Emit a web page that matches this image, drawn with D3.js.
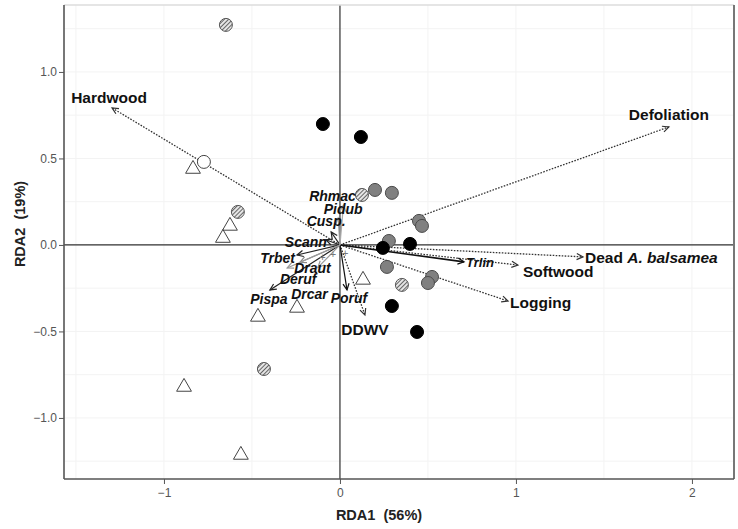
<!DOCTYPE html>
<html>
<head>
<meta charset="utf-8">
<script src="https://cdn.jsdelivr.net/npm/d3@7"></script>
<style>
  body { margin: 0; background: #fff; }
  text { font-family: "Liberation Sans", Arial, sans-serif; }
</style>
</head>
<body>
<svg id="chart" width="738" height="529"></svg>
<script>
// site scores by symbol group [RDA1, RDA2]
var blackSites = [[-0.097, 0.699], [0.119, 0.624], [0.244, -0.017], [0.398, 0.006], [0.295, -0.353], [0.438, -0.503]];
var greySites = [[0.199, 0.318], [0.295, 0.301], [0.449, 0.139], [0.466, 0.11], [0.278, 0.023], [0.267, -0.127], [0.523, -0.185], [0.5, -0.22]];
var hatchSites = [[-0.648, 1.272], [-0.58, 0.191], [0.125, 0.289], [0.352, -0.231], [-0.432, -0.717]];
var openSites = [[-0.773, 0.48]];
var triSites = [[-0.835, 0.439], [-0.625, 0.11], [-0.665, 0.04], [-0.466, -0.416], [-0.244, -0.364], [-0.886, -0.821], [-0.563, -1.214], [0.131, -0.202]];

// environmental vectors
var envNames = ["Hardwood", "Defoliation", "Dead", "Softwood", "Logging", "DDWV"];
var envX = [-1.295, 1.869, 1.381, 1.011, 0.955, 0.142];
var envY = [0.792, 0.682, -0.069, -0.116, -0.324, -0.405];

// species vectors
var sppNames = ["Trlin", "Poruf", "Pispa", "Trbet", "Scann", "Cusp.", "Pidub", "Rhmac", "Draut", "Deruf", "Drcar"];
var sppX = [0.705, 0.04, -0.398, -0.244, -0.08, -0.05, -0.01, 0.02, -0.227, -0.3, -0.125];
var sppY = [-0.098, -0.26, -0.26, -0.058, 0.03, 0.075, 0.156, 0.23, -0.1, -0.133, -0.13];
var plusPts = [[-0.04, -0.05], [0.03, -0.045], [-0.1, -0.07]];

var xTicks = [-1, 0, 1, 2];
var yTicks = [-1.0, -0.5, 0.0, 0.5, 1.0];

var margin = {top: 5, right: 4, bottom: 50, left: 64}
  , width = 738 - margin.left - margin.right
  , height = 529 - margin.top - margin.bottom;

var x = d3.scaleLinear().domain([-1.568, 2.239]).range([0, width]);
var y = d3.scaleLinear().domain([-1.353, 1.387]).range([height, 0]);

var svg = d3.select("#chart");
var defs = svg.append("defs");
var pat = defs.append("pattern")
  .attr("id", "hatch").attr("patternUnits", "userSpaceOnUse")
  .attr("width", 3).attr("height", 3)
  .attr("patternTransform", "rotate(45)");
pat.append("rect").attr("width", 3).attr("height", 3).attr("fill", "#e6e6e6");
pat.append("line").attr("x1", 0).attr("y1", 0).attr("x2", 0).attr("y2", 3)
  .attr("stroke", "#444").attr("stroke-width", 1.6);
defs.append("clipPath").attr("id", "clip").append("rect")
  .attr("width", width).attr("height", height);

var g = svg.append("g")
  .attr("transform", "translate(" + margin.left + "," + margin.top + ")");

// faint grid
g.append("g").selectAll("line")
  .data(d3.range(-1.5, 2.01, 0.5))
  .enter().append("line")
  .attr("x1", d => x(d)).attr("x2", d => x(d)).attr("y1", 0).attr("y2", height)
  .attr("stroke", "#f3f3f3");
g.append("g").selectAll("line")
  .data(d3.range(-1.25, 1.3, 0.25))
  .enter().append("line")
  .attr("y1", d => y(d)).attr("y2", d => y(d)).attr("x1", 0).attr("x2", width)
  .attr("stroke", "#f3f3f3");

// zero lines
g.append("line").attr("x1", 0).attr("x2", width).attr("y1", y(0)).attr("y2", y(0))
  .attr("stroke", "#333").attr("stroke-width", 1.2);
g.append("line").attr("x1", x(0)).attr("x2", x(0)).attr("y1", 0).attr("y2", height)
  .attr("stroke", "#333").attr("stroke-width", 1.2);

function arrow(sel, tx, ty, color, w, dash) {
  var x0 = x(0), y0 = y(0), x1 = x(tx), y1 = y(ty);
  var a = Math.atan2(y1 - y0, x1 - x0), L = 7, s = 0.45;
  sel.append("line").attr("x1", x0).attr("y1", y0).attr("x2", x1).attr("y2", y1)
    .attr("stroke", color).attr("stroke-width", w)
    .attr("stroke-dasharray", dash);
  sel.append("path")
    .attr("d", "M" + (x1 - L * Math.cos(a - s)) + "," + (y1 - L * Math.sin(a - s)) +
      "L" + x1 + "," + y1 +
      "L" + (x1 - L * Math.cos(a + s)) + "," + (y1 - L * Math.sin(a + s)))
    .attr("fill", "none").attr("stroke", color).attr("stroke-width", 1.2);
}

// env arrows (dotted)
var envG = g.append("g");
envNames.forEach((n, i) => arrow(envG, envX[i], envY[i], "#333", 1.3, "1.6,1.4"));

// species arrows (solid)
var sppColor = ["#111", "#111", "#222", "#222", "#222", "#222", "#999", "#aaa", "#888", "#999", "#999"];
var sppG = g.append("g");
sppNames.forEach((n, i) => arrow(sppG, sppX[i], sppY[i], sppColor[i], i == 0 ? 1.6 : 1.2, null));

g.append("g").selectAll("text").data(plusPts).enter().append("text")
  .attr("x", d => x(d[0])).attr("y", d => y(d[1]) + 4)
  .attr("text-anchor", "middle").attr("font-size", 11).attr("fill", "#777").text("+");

// sites
var pts = g.append("g").attr("clip-path", "url(#clip)");
function circles(data, fill, stroke) {
  pts.append("g").selectAll("circle").data(data).enter().append("circle")
    .attr("cx", d => x(d[0])).attr("cy", d => y(d[1])).attr("r", 6.5)
    .attr("fill", fill).attr("stroke", stroke).attr("stroke-width", 1);
}
circles(openSites, "#fff", "#444");
circles(hatchSites, "url(#hatch)", "#555");
circles(greySites, "#808080", "#4a4a4a");
circles(blackSites, "#000", "#000");
pts.append("g").selectAll("path").data(triSites).enter().append("path")
  .attr("d", d3.symbol(d3.symbolTriangle, 95))
  .attr("transform", d => "translate(" + x(d[0]) + "," + y(d[1]) + ")")
  .attr("fill", "#fff").attr("stroke", "#444").attr("stroke-width", 1);

// labels
var envLab = {
  "Hardwood": [-3, -4.5, "middle"], "Defoliation": [0, -6.5, "middle"],
  "Dead": [2, 6.5, "start"], "Softwood": [5, 12, "start"],
  "Logging": [2, 7, "start"], "DDWV": [0, 19.5, "middle"]
};
var envT = g.append("g").attr("font-size", 15.5).attr("font-weight", "bold").attr("fill", "#111");
envNames.forEach((n, i) => {
  var o = envLab[n];
  var t = envT.append("text")
    .attr("x", x(envX[i]) + o[0]).attr("y", y(envY[i]) + o[1])
    .attr("text-anchor", o[2]);
  if (n == "Dead") {
    t.text("Dead ");
    t.append("tspan").attr("font-style", "italic").text("A. balsamea");
  } else t.text(n);
});

var sppLab = {
  "Trlin": [2, 5, "start"], "Poruf": [2, 13, "middle"], "Pispa": [-1, 14.5, "middle"],
  "Trbet": [-2, 8, "end"], "Scann": [1, 7, "end"], "Cusp.": [-5, -6, "middle"],
  "Pidub": [5, -3.5, "middle"], "Rhmac": [-11, -4, "middle"], "Draut": [12.5, 10.5, "middle"],
  "Deruf": [11, 16.5, "middle"], "Drcar": [-8.5, 31.5, "middle"]
};
var sppT = g.append("g").attr("font-size", 14).attr("font-weight", "bold")
  .attr("font-style", "italic").attr("fill", "#111");
sppNames.forEach((n, i) => {
  var o = sppLab[n];
  sppT.append("text")
    .attr("x", x(sppX[i]) + o[0]).attr("y", y(sppY[i]) + o[1])
    .attr("text-anchor", o[2])
    .attr("font-size", n == "Trlin" ? 13 : 14)
    .text(n);
});

// frame
g.append("line").attr("x1", 0).attr("x2", width).attr("y1", 0).attr("y2", 0)
  .attr("stroke", "#ddd").attr("stroke-width", 1.5);
g.append("line").attr("x1", width).attr("x2", width).attr("y1", 0).attr("y2", height)
  .attr("stroke", "#777").attr("stroke-width", 2);

// axes
var xAxis = g.append("g")
  .attr("transform", "translate(0," + height + ")")
  .call(d3.axisBottom(x).tickValues(xTicks).tickSize(5).tickPadding(4).tickFormat(d3.format("d")));
var yAxis = g.append("g")
  .call(d3.axisLeft(y).tickValues(yTicks).tickSize(5).tickPadding(2).tickFormat(d3.format(".1f")));
[xAxis, yAxis].forEach(a => {
  a.select(".domain").attr("stroke", "#555").attr("stroke-width", 1.6);
  a.selectAll(".tick line").attr("stroke", "#555");
  a.selectAll(".tick text").attr("fill", "#555").attr("font-size", 12)
    .attr("font-family", "Liberation Sans, Arial, sans-serif");
});
xAxis.select(".domain").attr("d", "M0,0H" + width);
yAxis.select(".domain").attr("d", "M0," + height + "V0");

svg.append("text")
  .attr("x", 379).attr("y", 520)
  .attr("text-anchor", "middle").attr("font-size", 14.5).attr("font-weight", "bold")
  .attr("fill", "#222").style("white-space", "pre")
  .text("RDA1  (56%)");

svg.append("text")
  .attr("transform", "translate(25,224) rotate(-90)")
  .attr("text-anchor", "middle").attr("font-size", 14.5).attr("font-weight", "bold")
  .attr("fill", "#222").style("white-space", "pre")
  .text("RDA2  (19%)");
</script>
</body>
</html>
